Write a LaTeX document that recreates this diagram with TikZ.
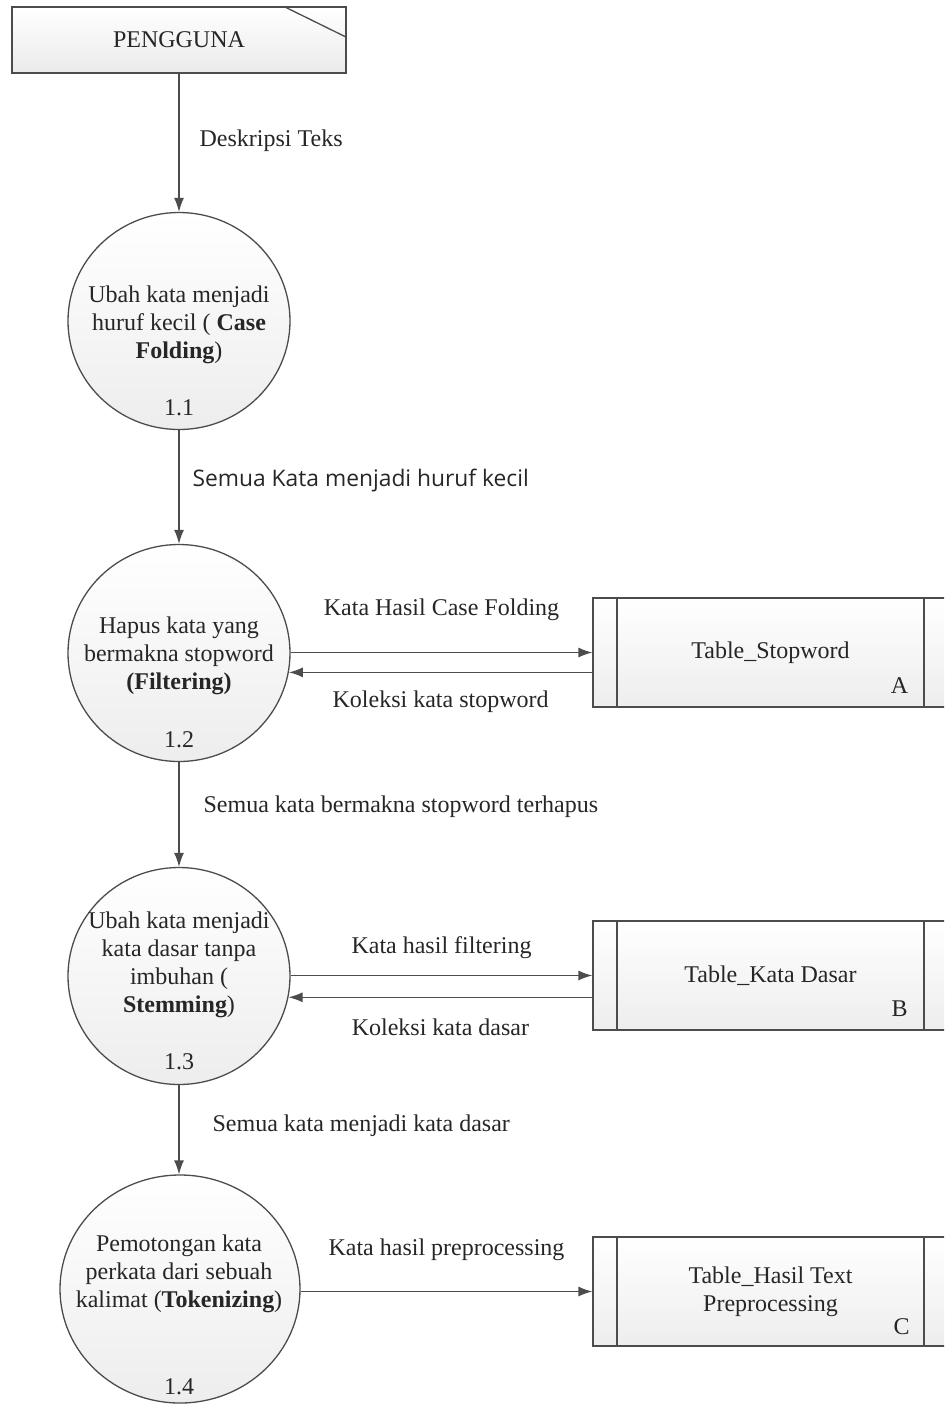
\documentclass[tikz,border=0pt]{standalone}
\usepackage{fontspec}
\setmainfont{Liberation Serif}
\newfontfamily\uifont{Open Sans}
\usetikzlibrary{arrows.meta,shapes.geometric}

\tikzset{
  ink/.style={draw=black!70, line width=0.65pt},
  flow/.style={ink, -{Latex[length=7pt,width=5pt]}},
  lbl/.style={font=\fontsize{12}{14}\selectfont, text=black!85, inner sep=1pt},
  ptext/.style={lbl, align=center},
  proc/.style={ellipse, ink, top color=white, bottom color=black!7,
    minimum width=111pt, minimum height=108.5pt, inner sep=0pt},
  entity/.style={rectangle, ink, top color=white, bottom color=black!8,
    minimum width=167pt, minimum height=33pt, lbl},
  store/.style={rectangle, ink, top color=white, bottom color=black!7,
    minimum width=177.5pt, minimum height=54.5pt, lbl, align=center,
    path picture={
      \draw[black!70, line width=0.65pt]
        ([xshift=12pt]path picture bounding box.north west) -- ([xshift=12pt]path picture bounding box.south west)
        ([xshift=-12pt]path picture bounding box.north east) -- ([xshift=-12pt]path picture bounding box.south east);
    }},
}

\begin{document}
\begin{tikzpicture}[x=0.5pt, y=-0.5pt]
\def\cx{179};
\def\tx{770.5};

\clip (0,0) rectangle (944,1404);

% external entity
\node[entity] (user) at (\cx, 40) {PENGGUNA};
\draw[ink] ([xshift=-31.5pt]user.north east) -- ([yshift=-15.5pt]user.north east);

% processes
\node[proc] (p1) at (\cx, 321) {};
\node[ptext] (p1t) at (\cx, 325) {Ubah kata menjadi\\huruf kecil ( \textbf{Case}\\\textbf{Folding})};
\node[lbl] (p1n) at (\cx, 408) {1.1};

\node[proc] (p2) at (\cx, 653) {};
\node[ptext] (p2t) at (\cx, 656) {Hapus kata yang\\bermakna stopword\\\textbf{(Filtering)}};
\node[lbl] (p2n) at (\cx, 740) {1.2};

\node[proc] (p3) at (\cx, 976) {};
\node[ptext] (p3t) at (\cx, 965) {Ubah kata menjadi\\kata dasar tanpa\\imbuhan (\\\textbf{Stemming})};
\node[lbl] (p3n) at (\cx, 1062) {1.3};

\node[proc, minimum width=120pt, minimum height=114pt] (p4) at (180, 1289) {};
\node[ptext] (p4t) at (\cx, 1274) {Pemotongan kata\\perkata dari sebuah\\kalimat (\textbf{Tokenizing})};
\node[lbl] (p4n) at (\cx, 1387) {1.4};

% data stores
\node[store] (t1) at (\tx, 652.5) {Table\_Stopword};
\node[lbl] (t1id) at ([shift={(-24.5pt,11pt)}]t1.south east) {A};

\node[store] (t2) at (\tx, 975.5) {Table\_Kata Dasar};
\node[lbl] (t2id) at ([shift={(-24.5pt,11pt)}]t2.south east) {B};

\node[store] (t3) at (\tx, 1291.5) {Table\_Hasil Text\\Preprocessing};
\node[lbl] (t3id) at ([shift={(-23.5pt,10pt)}]t3.south east) {C};

% vertical flows
\draw[flow] (user) -- (p1) node[lbl, midway, anchor=west, xshift=9pt, yshift=1pt] {Deskripsi Teks};
\draw[flow] (p1) -- (p2) node[lbl, midway, anchor=west, xshift=5.5pt, yshift=3pt, font=\uifont\fontsize{11.4}{13}\selectfont] {Semua Kata menjadi huruf kecil};
\draw[flow] (p2) -- (p3) node[lbl, midway, anchor=west, xshift=11pt, yshift=3.75pt] {Semua kata bermakna stopword terhapus};
\draw[flow] (p3.south) -- (p3.south |- p4.north) node[lbl, midway, anchor=west, xshift=15.5pt, yshift=2pt] {Semua kata menjadi kata dasar};

% flows to and from the stores
\draw[flow] (p2.east |- t1.west) -- (t1.west) node[lbl, midway, yshift=21.5pt] {Kata Hasil Case Folding};
\draw[flow] (t1.west |- p2.-10.5) -- (p2.-10.5) node[lbl, midway, yshift=-14.5pt] {Koleksi kata stopword};

\draw[flow] (p3.east |- t2.west) -- (t2.west) node[lbl, midway, yshift=14pt] {Kata hasil filtering};
\draw[flow] (t2.west |- p3.-11) -- (p3.-11) node[lbl, midway, yshift=-15pt] {Koleksi kata dasar};

\draw[flow] (p4.east |- t3.west) -- (t3.west) node[lbl, midway, yshift=21pt] {Kata hasil preprocessing};

\end{tikzpicture}
\end{document}
